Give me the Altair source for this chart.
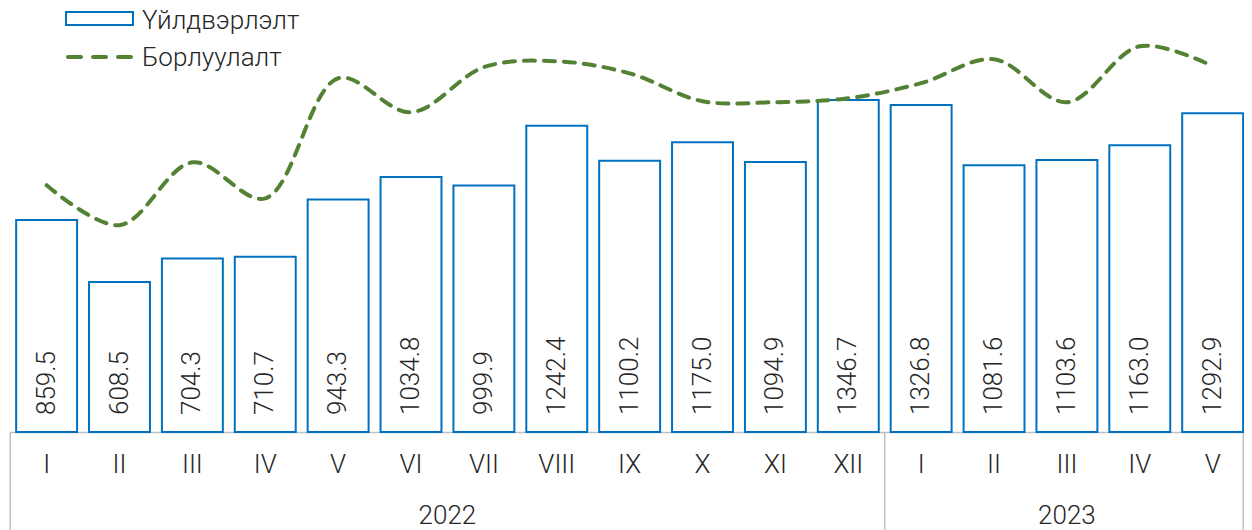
import altair as alt
import pandas as pd

months = ["I", "II", "III", "IV", "V", "VI", "VII", "VIII", "IX", "X", "XI", "XII",
          "I", "II", "III", "IV", "V"]
years = ["2022"] * 12 + ["2023"] * 5
production = [859.5, 608.5, 704.3, 710.7, 943.3, 1034.8, 999.9, 1242.4, 1100.2,
              1175.0, 1094.9, 1346.7, 1326.8, 1081.6, 1103.6, 1163.0, 1292.9]
sales = [1001, 839, 1094, 948, 1435, 1297, 1480, 1504, 1455, 1342, 1338, 1354,
         1415, 1512, 1338, 1565, 1484]
year_labels = ["2022", "2023"]
year_centers = [5.5, 14.0]
separators = [-0.5, 11.5, 16.5]
legend_names = ["Үйлдвэрлэлт", "Борлуулалт"]

FONT = "Roboto"
FS = 26
TXT = "#262626"
BLUE = "#0070C0"
GREEN = "#548235"
GRAY = "#BFBFBF"
W = 1236
H = 424
XMIN, XMAX = -0.53, 16.43

df = pd.DataFrame({
    "idx": list(range(len(months))),
    "month": months,
    "year": years,
    "prod": production,
    "sales": sales,
})
df["x0"] = df["idx"] - 0.418
df["x1"] = df["idx"] + 0.418
df["zero"] = 0.0
df["label"] = [f"{v:.1f}" for v in production]

xs = alt.Scale(domain=[XMIN, XMAX], nice=False, zero=False)
ys = alt.Scale(domain=[0, 1720], nice=False)

base = alt.Chart(df)

bars = base.mark_bar(fill="white", stroke=BLUE, strokeWidth=2).encode(
    x=alt.X("x0:Q", scale=xs, axis=None),
    x2="x1:Q",
    y=alt.Y("prod:Q", scale=ys, axis=None),
    y2="zero:Q",
)

labels = base.mark_text(angle=270, align="left", baseline="middle",
                        font=FONT, fontSize=FS, fontWeight=300, color=TXT).encode(
    x=alt.X("idx:Q", scale=xs, axis=None),
    y=alt.value(H - 17),
    text="label:N",
)

line = base.mark_line(color=GREEN, strokeWidth=4, strokeDash=[11, 9],
                      strokeCap="round", interpolate="catmull-rom").encode(
    x=alt.X("idx:Q", scale=xs, axis=None),
    y=alt.Y("sales:Q", scale=ys, axis=None),
)

month_text = base.mark_text(font=FONT, fontSize=FS, fontWeight=300, color=TXT,
                            baseline="middle").encode(
    x=alt.X("idx:Q", scale=xs, axis=None),
    y=alt.value(H + 33),
    text="month:N",
)

ydf = pd.DataFrame({"year": year_labels, "c": year_centers})
year_text = alt.Chart(ydf).mark_text(font=FONT, fontSize=FS, fontWeight=300,
                                     color=TXT, baseline="middle").encode(
    x=alt.X("c:Q", scale=xs, axis=None),
    y=alt.value(H + 84),
    text="year:N",
)

sdf = pd.DataFrame({"s": [min(max(s, XMIN + 0.01), XMAX - 0.01) for s in separators]})
vlines = alt.Chart(sdf).mark_rule(color=GRAY, strokeWidth=1.5).encode(
    x=alt.X("s:Q", scale=xs, axis=None),
    y=alt.value(H),
    y2=alt.value(H + 110),
)
hdf = pd.DataFrame({"a": [sdf["s"].iloc[0]], "b": [sdf["s"].iloc[-1]]})
hline = alt.Chart(hdf).mark_rule(color=GRAY, strokeWidth=1.5).encode(
    x=alt.X("a:Q", scale=xs, axis=None),
    x2="b:Q",
    y=alt.value(H + 0.5),
)

ldf1 = pd.DataFrame({"t": [legend_names[0]]})
ldf2 = pd.DataFrame({"t": [legend_names[1]]})
leg_rect = alt.Chart(ldf1).mark_rect(fill="white", stroke=BLUE, strokeWidth=2).encode(
    x=alt.value(58), x2=alt.value(125), y=alt.value(4), y2=alt.value(17),
    tooltip="t:N")
leg_line = alt.Chart(ldf2).mark_rule(color=GREEN, strokeWidth=4, strokeDash=[13, 12],
                                     strokeCap="round").encode(
    x=alt.value(60), x2=alt.value(125), y=alt.value(49), tooltip="t:N")
leg_t1 = alt.Chart(ldf1).mark_text(font=FONT, fontSize=FS, fontWeight=300, color=TXT,
                                   align="left", baseline="middle").encode(
    x=alt.value(134), y=alt.value(13), text="t:N")
leg_t2 = alt.Chart(ldf2).mark_text(font=FONT, fontSize=FS, fontWeight=300, color=TXT,
                                   align="left", baseline="middle").encode(
    x=alt.value(134), y=alt.value(50), text="t:N")

chart = alt.layer(
    hline, vlines, bars, labels, line, month_text, year_text,
    leg_rect, leg_line, leg_t1, leg_t2,
).properties(
    width=W, height=H,
    autosize=alt.AutoSizeParams(type="none"),
    padding={"left": 0, "top": 0, "right": 0, "bottom": 98},
).configure_view(stroke=None)

chart.save("out.html", embed_options={"renderer": "svg", "actions": False})
